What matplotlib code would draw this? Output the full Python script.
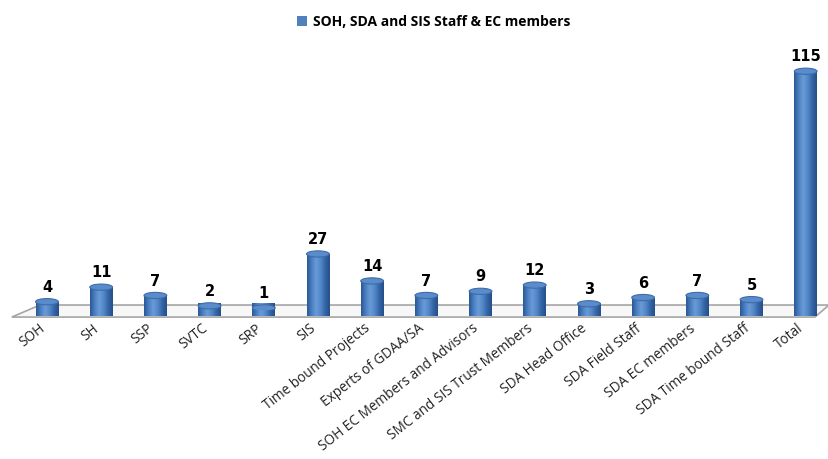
import numpy as np
import matplotlib
matplotlib.use("Agg")
import matplotlib.pyplot as plt
import matplotlib.transforms as mtransforms
from matplotlib.patches import Ellipse, Polygon, Patch
from matplotlib.colors import LinearSegmentedColormap

# ---------------- Data ------------------------
categories = ["SOH", "SH", "SSP", "SVTC", "SRP", "SIS", "Time bound Projects",
              "Experts of GDAA/SA", "SOH EC Members and Advisors",
              "SMC and SIS Trust Members", "SDA Head Office", "SDA Field Staff",
              "SDA EC members", "SDA Time bound Staff", "Total"]
values = [4, 11, 7, 2, 1, 27, 14, 7, 9, 12, 3, 6, 7, 5, 115]
series_name = "SOH, SDA and SIS Staff & EC members"

# ---------------- Style ------------------------
BAR_W = 0.42
CAP_H = 3.0
cyl = LinearSegmentedColormap.from_list(
    "cyl", ["#2a5794", "#4a7fc2", "#6a9bd8", "#5287c8", "#3566a6", "#234f8a"])
grad = np.linspace(0, 1, 64).reshape(1, -1)

fig = plt.figure(figsize=(8.29, 4.59), dpi=100)
ax = fig.add_axes([0.0, 0.3246, 1.0, 0.588])
ax.set_xlim(-0.867, 14.43)
ax.set_ylim(0, 130)
for s in ax.spines.values():
    s.set_visible(False)
ax.tick_params(axis="y", left=False, labelleft=False)
ax.tick_params(axis="x", length=0, pad=8)

# floor
floor = Polygon([(-0.65, -3.4), (-0.13, 2.4), (14.43, 2.4), (14.17, -3.4)],
                closed=True, facecolor="#f7f7f7", edgecolor="#a6a6a6",
                linewidth=1.2, clip_on=False, zorder=1)
ax.add_patch(floor)

x = np.arange(len(categories))
bars = ax.bar(x, values, BAR_W, color="none", edgecolor="none", zorder=3)

for xi, v, b in zip(x, values, bars):
    x0 = xi - BAR_W / 2
    # body with cylinder shading
    im = ax.imshow(grad, cmap=cyl, aspect="auto", extent=(x0, x0 + BAR_W, -CAP_H, v),
                   zorder=3, interpolation="bicubic")
    im.set_clip_path(b)
    bottom = Ellipse((xi, 0), BAR_W, CAP_H, facecolor="none", edgecolor="none",
                     zorder=3, clip_on=False)
    ax.add_patch(bottom)
    im2 = ax.imshow(grad, cmap=cyl, aspect="auto",
                    extent=(x0, x0 + BAR_W, -CAP_H, CAP_H),
                    zorder=3, interpolation="bicubic", clip_on=False)
    im2.set_clip_path(bottom)
    # top cap
    ax.add_patch(Ellipse((xi, v), BAR_W, CAP_H, facecolor="#5a8ccc",
                         edgecolor="#3f6ca8", linewidth=0.8, zorder=4))
    ax.annotate(str(v), (xi, v), xytext=(0, 5), textcoords="offset points",
                ha="center", va="bottom", fontsize=10.5, fontweight="bold",
                color="black", zorder=5)

ax.set_xticks(x)
ax.set_xticklabels(categories, rotation=38, ha="right", rotation_mode="anchor",
                   fontsize=9.8, family="Open Sans", color="#222222")
shift = mtransforms.ScaledTranslation(-6 / 72, 0, fig.dpi_scale_trans)
for lbl in ax.get_xticklabels():
    lbl.set_transform(lbl.get_transform() + shift)

handle = Patch(facecolor="#4f81bd", edgecolor="none")
fig.legend([handle], [series_name], loc="upper center", bbox_to_anchor=(0.523, 0.995),
           frameon=False, handlelength=0.7, handleheight=0.7, handletextpad=0.4,
           prop={"size": 10, "weight": "bold", "family": "Open Sans"})

fig.patch.set_facecolor("white")
fig.savefig("out.png", dpi=100, facecolor="white")
